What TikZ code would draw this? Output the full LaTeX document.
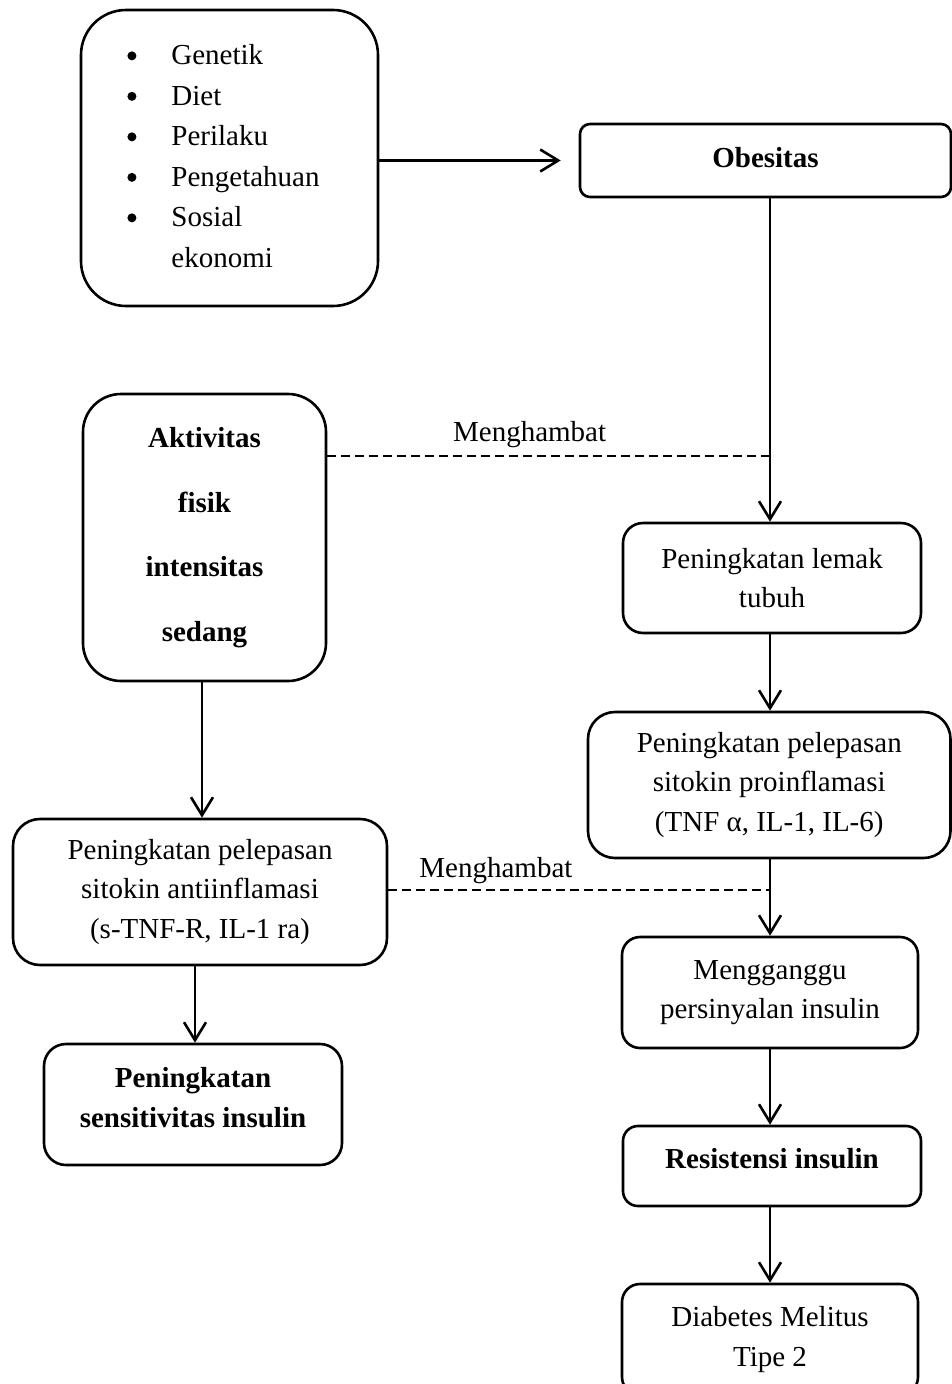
\documentclass[tikz,border=0pt]{standalone}
\usepackage{fontspec}
\setmainfont{Liberation Serif}
\usetikzlibrary{arrows.meta}
\newcommand\blt{\raisebox{4.5pt}{\tikz\fill (0,0) circle[radius=4.5pt];}}
\begin{document}
\begin{tikzpicture}[x=1pt,y=-1pt,
  box/.style={draw, line width=2.6pt, align=center, inner sep=0pt, font=\fontsize{29}{39.5}\selectfont},
  boldbox/.style={box, font=\fontsize{29}{39.5}\selectfont\bfseries},
  conn/.style={line width=2.6pt},
  arr/.style={conn, -{Straight Barb[length=18pt,width=22pt]}},
  inhib/.style={conn, dash pattern=on 9pt off 5pt},
  lab/.style={font=\fontsize{29}{35}\selectfont, inner sep=0pt}]
\clip (0,0) rectangle (952,1384);
\node[box, font=\fontsize{29}{40.5}\selectfont, minimum width=297pt, minimum height=296pt, rounded corners=45pt] (faktor) at (229.5,158)
  {\begin{tabular}{@{}l@{\hspace{35pt}}l@{\hspace{12pt}}}\blt & Genetik\\ \blt & Diet\\ \blt & Perilaku\\ \blt & Pengetahuan\\ \blt & Sosial\\ & ekonomi\end{tabular}};
\node[boldbox, minimum width=371pt, minimum height=73pt, rounded corners=10pt, text depth=7pt] (obes) at (765.5,160.5) {Obesitas};
\node[box, font=\fontsize{29}{64.7}\selectfont\bfseries, minimum width=243pt, minimum height=287pt, rounded corners=38pt] (aktiv) at (204.5,537.5) {Aktivitas\\ fisik\\ intensitas\\ sedang};
\node[box, minimum width=298pt, minimum height=110pt, rounded corners=20pt] (lemak) at (772,578) {Peningkatan lemak\\ tubuh};
\node[box, minimum width=362.5pt, minimum height=146pt, rounded corners=27pt] (proinf) at (769.25,785) {Peningkatan pelepasan\\ sitokin proinflamasi\\ (TNF α, IL-1, IL-6)};
\node[box, minimum width=374pt, minimum height=146pt, rounded corners=27pt] (anti) at (200,892) {Peningkatan pelepasan\\ sitokin antiinflamasi\\ (s-TNF-R, IL-1 ra)};
\node[boldbox, minimum width=298pt, minimum height=121pt, rounded corners=22pt, text depth=14pt] (sens) at (193,1104.5) {Peningkatan\\ sensitivitas insulin};
\node[box, minimum width=296pt, minimum height=111pt, rounded corners=18pt] (meng) at (770,992.5) {Mengganggu\\ persinyalan insulin};
\node[boldbox, minimum width=298pt, minimum height=80pt, rounded corners=15pt, text depth=16pt] (resis) at (772,1166) {Resistensi insulin};
\node[box, minimum width=296pt, minimum height=111pt, rounded corners=18pt] (dm) at (770,1339.5) {Diabetes Melitus\\ Tipe 2};
\coordinate (j1) at (770,456);
\coordinate (j2) at (770,890);
\draw[arr, shorten >=18pt] (faktor.east |- obes.west) -- (obes.west);
\draw[conn] (obes.south -| j1) -- (j1);
\draw[arr] (j1) -- (lemak.north -| j1);
\draw[inhib] (aktiv.east |- j1) -- (j1) node[lab, pos=0.457, yshift=21pt] {Menghambat};
\draw[arr] (lemak.south -| j1) -- (proinf.north -| j1);
\draw[conn] (proinf.south -| j2) -- (j2);
\draw[arr] (j2) -- (meng.north -| j2);
\draw[inhib] (anti.east |- j2) -- (j2) node[lab, pos=0.282, yshift=19pt] {Menghambat};
\draw[arr] (meng.south -| j2) -- (resis.north -| j2);
\draw[arr] (resis.south -| j2) -- (dm.north -| j2);
\draw[arr] ([xshift=-2.5pt]aktiv.south) -- ([xshift=-2.5pt]aktiv.south |- anti.north);
\draw[arr] ([xshift=2pt]sens.north |- anti.south) -- ([xshift=2pt]sens.north);
\end{tikzpicture}
\end{document}
